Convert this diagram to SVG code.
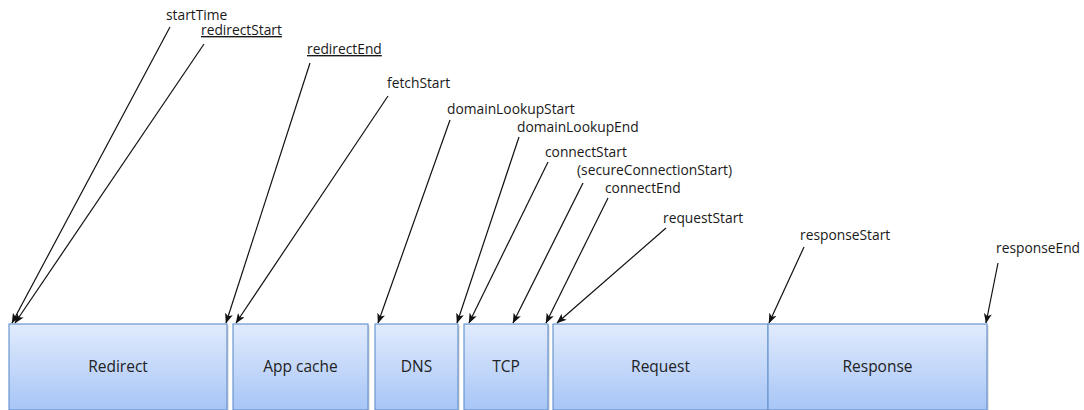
<svg xmlns="http://www.w3.org/2000/svg" width="1084" height="410" viewBox="0 0 1084 410">
<style>
.lbl{font-family:"Open Sans","Noto Sans","Liberation Sans",sans-serif;font-size:13.8px;fill:#1a1a1a}
.u{text-decoration:underline}
.box{fill:url(#g);stroke:#6a97cf;stroke-width:1.2}
.sh{fill:#d0d0d0}
.bt{font-family:"Open Sans","Noto Sans","Liberation Sans",sans-serif;font-size:15.5px;fill:#222;text-anchor:middle}
.c{stroke:#111;stroke-width:1.2;fill:none;marker-end:url(#a)}
</style>
<defs>
<linearGradient id="g" x1="0" y1="0" x2="0" y2="1">
<stop offset="0" stop-color="#e1ebfd"/>
<stop offset="1" stop-color="#a7c5f6"/>
</linearGradient>
<marker id="a" viewBox="0 0 10 8" refX="9.5" refY="4" markerWidth="10" markerHeight="8" markerUnits="userSpaceOnUse" orient="auto">
<path d="M0,0 L10,4 L0,8 L2.5,4 z" fill="#111"/>
</marker>
</defs>
<rect width="1084" height="410" fill="#fff"/>
<g id="redirect"><rect class="sh" x="10.5" y="325.5" width="218" height="86"/><rect class="box" x="9" y="324" width="218" height="86"/><text class="bt" x="118" y="372">Redirect</text></g>
<g id="appcache"><rect class="sh" x="234.5" y="325.5" width="135" height="86"/><rect class="box" x="233" y="324" width="135" height="86"/><text class="bt" x="300.5" y="372">App cache</text></g>
<g id="dns"><rect class="sh" x="376.5" y="325.5" width="83" height="86"/><rect class="box" x="375" y="324" width="83" height="86"/><text class="bt" x="416.5" y="372">DNS</text></g>
<g id="tcp"><rect class="sh" x="465.5" y="325.5" width="84" height="86"/><rect class="box" x="464" y="324" width="84" height="86"/><text class="bt" x="506" y="372">TCP</text></g>
<g id="request"><rect class="sh" x="554.5" y="325.5" width="215" height="86"/><rect class="box" x="553" y="324" width="215" height="86"/><text class="bt" x="660.5" y="372">Request</text></g>
<g id="response"><rect class="sh" x="769.5" y="325.5" width="219" height="86"/><rect class="box" x="768" y="324" width="219" height="86"/><text class="bt" x="877.5" y="372">Response</text></g>
<g id="labels">
<text class="lbl" x="166" y="20">startTime</text>
<text class="lbl u" x="201" y="35">redirectStart</text>
<text class="lbl u" x="307" y="54">redirectEnd</text>
<text class="lbl" x="387" y="88">fetchStart</text>
<text class="lbl" x="447" y="114">domainLookupStart</text>
<text class="lbl" x="517" y="132">domainLookupEnd</text>
<text class="lbl" x="545" y="157">connectStart</text>
<text class="lbl" x="577" y="175">(secureConnectionStart)</text>
<text class="lbl" x="605" y="193">connectEnd</text>
<text class="lbl" x="663" y="223">requestStart</text>
<text class="lbl" x="800" y="240">responseStart</text>
<text class="lbl" x="996" y="253">responseEnd</text>
</g>
<g id="connectors">
<line class="c" x1="170" y1="27" x2="12" y2="323"/>
<line class="c" x1="204" y1="44" x2="15" y2="323"/>
<line class="c" x1="310" y1="63" x2="226" y2="323"/>
<line class="c" x1="388" y1="96" x2="236" y2="323"/>
<line class="c" x1="450" y1="120" x2="378" y2="323"/>
<line class="c" x1="519" y1="137" x2="457" y2="323"/>
<line class="c" x1="548" y1="162" x2="469" y2="323"/>
<line class="c" x1="583" y1="183" x2="513" y2="323"/>
<line class="c" x1="608" y1="198" x2="546" y2="323"/>
<line class="c" x1="666" y1="228" x2="557" y2="323"/>
<line class="c" x1="804" y1="247" x2="769" y2="323"/>
<line class="c" x1="998" y1="263" x2="986" y2="323"/>
</g>
</svg>
